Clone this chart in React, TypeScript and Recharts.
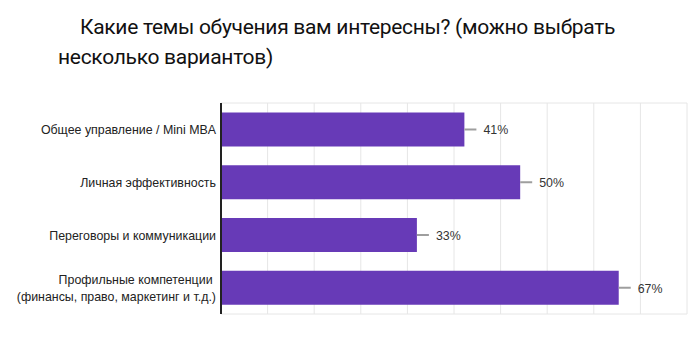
import { BarChart, Bar, XAxis, YAxis, CartesianGrid, LabelList } from "recharts";

const topics = [
  "Общее управление / Mini MBA",
  "Личная эффективность",
  "Переговоры и коммуникации",
  "Профильные компетенции \n(финансы, право, маркетинг и т.д.)",
];
const shares = [41, 50.4, 33, 67];
const shareLabels = ["41%", "50%", "33%", "67%"];
const axisMax = 78.5;

const data = topics.map((topic, i) => ({
  topic,
  share: shares[i],
  label: shareLabels[i],
}));

const gridTicks = Array.from({ length: 11 }, (_, i) => (axisMax / 10) * i);

function TopicTick(props: any) {
  const { x, y, payload } = props;
  const lines = String(payload.value).split("\n");
  const start = -((lines.length - 1) * 17) / 2;
  return (
    <text
      x={x + 3}
      y={y}
      textAnchor="end"
      fontSize={12.4}
      fontFamily="Liberation Sans, Arial, sans-serif"
      fill="#222"
    >
      {lines.map((line, i) => (
        <tspan key={i} x={x + 3} dy={i === 0 ? start + 5 : 17}>
          {line}
        </tspan>
      ))}
    </text>
  );
}

function ShareLabel(props: any) {
  const { x, y, width, height, value } = props;
  const end = x + width;
  const mid = y + height / 2;
  return (
    <g>
      <line x1={end} x2={end + 12} y1={mid} y2={mid} stroke="#9e9e9e" strokeWidth={2} />
      <text
        x={end + 19}
        y={mid + 5}
        fontSize={12.4}
        fontFamily="Liberation Sans, Arial, sans-serif"
        fill="#333"
      >
        {value}
      </text>
    </g>
  );
}

export default function App() {
  return (
    <div style={{ position: "relative", width: 700, height: 357, margin: -8, background: "#fff" }}>
      <div
        style={{
          position: "absolute",
          left: 58,
          top: 12,
          width: 640,
          fontFamily: "Roboto, sans-serif",
          fontSize: 21,
          lineHeight: "30px",
          color: "#111",
          letterSpacing: -0.3,
        }}
      >
        <div style={{ paddingLeft: 22 }}>Какие темы обучения вам интересны? (можно выбрать</div>
        <div>несколько вариантов)</div>
      </div>
      <div style={{ position: "absolute", left: 0, top: 0 }}>
        <BarChart
          width={700}
          height={357}
          data={data}
          layout="vertical"
          margin={{ top: 103, right: 13, bottom: 43, left: 0 }}
          barCategoryGap="18%"
        >
          <CartesianGrid
            stroke="#e6e6e6"
            strokeWidth={1}
            horizontalCoordinatesGenerator={({ offset }: any) => [
              offset.top,
              offset.top + offset.height,
            ]}
            verticalCoordinatesGenerator={({ offset }: any) =>
              gridTicks.map((t) => offset.left + (offset.width * t) / axisMax)
            }
          />
          <XAxis
            type="number"
            domain={[0, axisMax]}
            ticks={gridTicks}
            tick={false}
            tickLine={false}
            axisLine={false}
            height={0}
          />
          <YAxis
            type="category"
            dataKey="topic"
            width={221}
            tickLine={false}
            axisLine={{ stroke: "#222", strokeWidth: 2 }}
            tick={<TopicTick />}
            interval={0}
          />
          <Bar dataKey="share" fill="#673ab7" isAnimationActive={false}>
            <LabelList dataKey="label" content={<ShareLabel />} />
          </Bar>
        </BarChart>
      </div>
    </div>
  );
}
